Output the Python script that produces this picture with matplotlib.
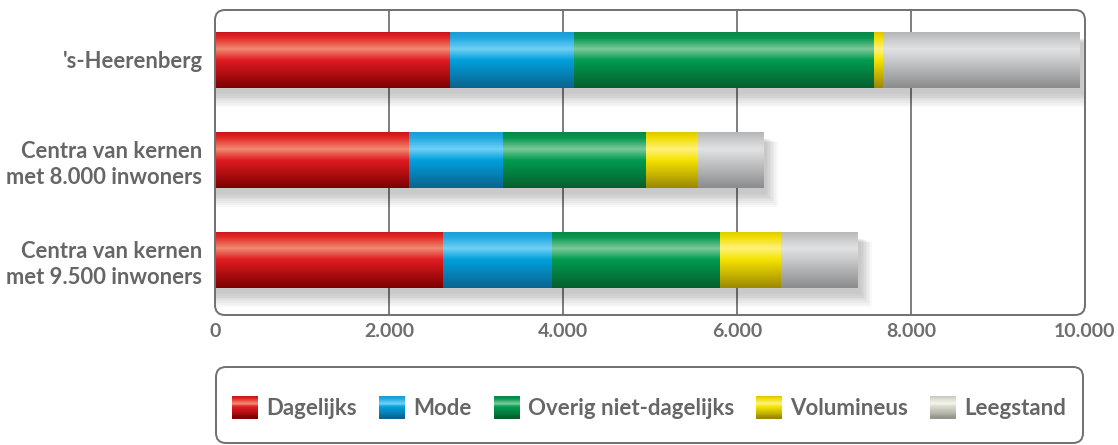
import numpy as np
import matplotlib
matplotlib.use("Agg")
import matplotlib.pyplot as plt
from matplotlib.patches import FancyBboxPatch, Rectangle, Patch
from matplotlib.colors import to_rgb
from matplotlib.legend_handler import HandlerBase

# ---- data (m2 winkelvloeroppervlak per branchegroep) ----
categories = ["'s-Heerenberg",
              "Centra van kernen\nmet 8.000 inwoners",
              "Centra van kernen\nmet 9.500 inwoners"]
series_names = ["Dagelijks", "Mode", "Overig niet-dagelijks", "Volumineus", "Leegstand"]
dagelijks = [2700, 2230, 2615]
mode = [1430, 1075, 1255]
overig = [3450, 1650, 1935]
volumineus = [95, 595, 695]
leegstand = [2260, 750, 885]
xticks = [0, 2000, 4000, 6000, 8000, 10000]
xtick_labels = ["0", "2.000", "4.000", "6.000", "8.000", "10.000"]

series = [dagelijks, mode, overig, volumineus, leegstand]

# glossy vertical gradients: (position, colour) from top to bottom of a bar
gradients = {
    "Dagelijks": [(0.0, "#c8161c"), (0.10, "#e42a26"), (0.30, "#f08a72"),
                  (0.50, "#e01c22"), (1.0, "#7e0000")],
    "Mode": [(0.0, "#1c9bd4"), (0.10, "#21a9e1"), (0.30, "#6fd0f6"),
             (0.50, "#00a0dc"), (1.0, "#0b6490")],
    "Overig niet-dagelijks": [(0.0, "#0a874a"), (0.10, "#06984f"), (0.30, "#7cc99a"),
                              (0.50, "#009c50"), (1.0, "#075f2e")],
    "Volumineus": [(0.0, "#ddc800"), (0.10, "#f0de00"), (0.30, "#fff27c"),
                   (0.50, "#f5e300"), (1.0, "#9c8800")],
    "Leegstand": [(0.0, "#b4b6b8"), (0.10, "#c4c6c8"), (0.30, "#e0e2e4"),
                  (0.50, "#c8cacc"), (1.0, "#8a8c8e")],
}
legend_gradients = dict(gradients)
legend_gradients["Leegstand"] = [(0.0, "#c8c8bc"), (0.10, "#dcdcd0"), (0.30, "#f4f4ec"),
                                 (0.50, "#d8d8cc"), (1.0, "#94948a")]

TEXT = "#666666"


def gradient_column(stops, n=64):
    pos = np.array([p for p, _ in stops])
    cols = np.array([to_rgb(c) for _, c in stops])
    t = np.linspace(0, 1, n)
    rgb = np.stack([np.interp(t, pos, cols[:, k]) for k in range(3)], axis=-1)
    return rgb[:, None, :]


plt.rcParams["font.family"] = ["Lato", "DejaVu Sans"]
plt.rcParams["font.weight"] = "bold"

W, H, DPI = 1118, 445, 100
fig = plt.figure(figsize=(W / DPI, H / DPI), dpi=DPI)
fig.patch.set_facecolor("white")

px_l, px_r, px_t, px_b = 215, 1085, 10, 315
ax = fig.add_axes([px_l / W, 1 - px_b / H, (px_r - px_l) / W, (px_b - px_t) / H])
ax.set_facecolor("none")
for s in ax.spines.values():
    s.set_visible(False)

# vertical grid lines
for xv in xticks[1:-1]:
    ax.axvline(xv, color="#5a5a5a", lw=1.1, zorder=0.5)

y = np.arange(len(categories))
h = 0.56
totals = np.sum(series, axis=0)

# soft drop shadow below every bar
for yi, tot in zip(y, totals):
    for k in range(8):
        grow = k * 0.012
        ax.add_patch(Rectangle((0, yi - h / 2 + 0.06 + grow * 0.5), tot + 40 + k * 18, h + grow,
                               facecolor="black", edgecolor="none", alpha=0.028, zorder=1))

left = np.zeros(len(categories))
for name, vals in zip(series_names, series):
    bars = ax.barh(y, vals, left=left, height=h, color=gradients[name][3][1],
                   edgecolor="none", zorder=2)
    img = gradient_column(gradients[name])
    for b in bars:
        x0, w = b.get_x(), b.get_width()
        yb, hb = b.get_y(), b.get_height()
        im = ax.imshow(img, extent=(x0, x0 + w, yb + hb, yb), origin="upper",
                       aspect="auto", zorder=3, interpolation="bilinear")
        im.set_clip_path(b)
    left += np.array(vals)
ax.set_xlim(0, 10000)
ax.set_ylim(2.55, -0.5)

ax.set_yticks(y)
ax.set_yticklabels(categories, fontsize=15.8, color=TEXT, fontweight="bold",
                   linespacing=1.3)
ax.set_xticks(xticks)
ax.set_xticklabels(xtick_labels, fontsize=14, color="#6e6e6e", fontweight="bold")
ax.tick_params(axis="both", length=0)
ax.tick_params(axis="x", pad=6)
ax.tick_params(axis="y", pad=9)

# rounded frames around plot area and legend
fig.add_artist(FancyBboxPatch((px_l / DPI, (H - px_b) / DPI), (px_r - px_l) / DPI,
                              (px_b - px_t) / DPI,
                              boxstyle="round,pad=0,rounding_size=0.1",
                              transform=fig.dpi_scale_trans, facecolor="none",
                              edgecolor="#707070", lw=1.4, zorder=5))
fig.add_artist(FancyBboxPatch((216 / DPI, (H - 443) / DPI), (1083 - 216) / DPI,
                              (443 - 367) / DPI,
                              boxstyle="round,pad=0,rounding_size=0.1",
                              transform=fig.dpi_scale_trans, facecolor="none",
                              edgecolor="#707070", lw=1.4, zorder=5))


class GradientSwatch(HandlerBase):
    def create_artists(self, legend, orig_handle, xdescent, ydescent, width, height,
                       fontsize, trans):
        stops = legend_gradients[orig_handle.get_label()]
        col = gradient_column(stops, n=24)[:, 0, :]
        n = len(col)
        arts = []
        for i, c in enumerate(col):
            yy = -ydescent + height * (1 - (i + 1) / n)
            r = Rectangle((-xdescent, yy), width, height / n + 0.3, facecolor=c,
                          edgecolor="none", transform=trans)
            arts.append(r)
        return arts


handles = [Patch(label=n) for n in series_names]
leg = fig.legend(handles=handles, labels=series_names, loc="center",
                 bbox_to_anchor=(649 / W, 1 - 408 / H), ncol=5, frameon=False,
                 handler_map={Patch: GradientSwatch()}, fontsize=16,
                 handlelength=1.17, handleheight=1.13, handletextpad=0.36,
                 columnspacing=1.0)
for t in leg.get_texts():
    t.set_color(TEXT)
    t.set_fontweight("bold")

fig.savefig("out.png", dpi=DPI, facecolor="white")
